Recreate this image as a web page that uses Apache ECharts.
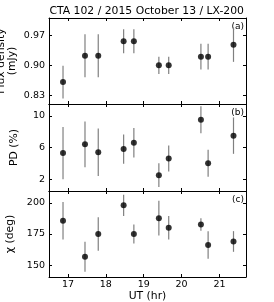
<!DOCTYPE html>
<html><head><meta charset="utf-8">
<script src="https://cdn.jsdelivr.net/npm/echarts@6/dist/echarts.min.js"></script>
<style>html,body{margin:0;padding:0;background:#fff}#c{width:274px;height:302px}</style>
</head><body><div id="c"></div>
<script>
const ut = [16.87, 17.45, 17.80, 18.47, 18.74, 19.40, 19.66, 20.51, 20.70, 21.37];
const flux = [0.861, 0.922, 0.922, 0.956, 0.956, 0.900, 0.900, 0.920, 0.920, 0.948];
const fluxErr = [0.038, 0.050, 0.050, 0.028, 0.028, 0.020, 0.020, 0.030, 0.030, 0.040];
const pd = [5.3, 6.4, 5.4, 5.8, 6.6, 2.5, 4.6, 9.5, 4.0, 7.5];
const pdErr = [3.3, 2.9, 3.0, 1.85, 1.85, 1.5, 1.65, 1.7, 1.7, 2.3];
const chi = [185.6, 156.7, 175.0, 198.0, 175.0, 187.7, 180.0, 182.7, 166.2, 169.0];
const chiErr = [15, 12, 13.5, 8.5, 7.7, 14, 9.4, 5, 11, 8.3];
const utTicks = [17, 18, 19, 20, 21];
const fluxTicks = [0.83, 0.90, 0.97];
const pdTicks = [2, 6, 10];
const chiTicks = [150, 175, 200];
const titleText = 'CTA 102 / 2015 October 13 / LX-200';
const panelLabels = ['(a)', '(b)', '(c)'];
const yNames = ['Flux density\n(mJy)', 'PD (%)', 'χ (deg)'];
const xName = 'UT (hr)';

const FONT = 'DejaVu Sans';
const grids = [
  {left: 49, width: 197, top: 18, height: 86, outerBoundsMode: 'none', containLabel: false},
  {left: 49, width: 197, top: 104, height: 87, outerBoundsMode: 'none', containLabel: false},
  {left: 49, width: 197, top: 191, height: 86, outerBoundsMode: 'none', containLabel: false}
];
const yRanges = [[0.81, 1.01], [0.5, 11.5], [140.5, 209.5]];
const yTicks = [fluxTicks, pdTicks, chiTicks];
const yFmt = [v => v.toFixed(2), v => String(v), v => String(v)];
const yGaps = [31, 29, 33];
const vals = [flux, pd, chi];
const errs = [fluxErr, pdErr, chiErr];

const line = {show: true, lineStyle: {color: '#000', width: 1}};
const xAxis = [], yAxis = [], series = [];
for (let i = 0; i < 3; i++) {
  xAxis.push({
    type: 'value', gridIndex: i, min: 16.5, max: 21.7, position: 'bottom',
    axisLine: line, splitLine: {show: false},
    axisTick: {show: true, inside: true, length: 3, customValues: utTicks, lineStyle: {color: '#000'}},
    axisLabel: {show: i === 2, customValues: utTicks, fontFamily: FONT, fontSize: 9.5, color: '#000', margin: 3},
    name: i === 2 ? xName : '', nameLocation: 'middle', nameGap: 14, nameMoveOverlap: false,
    nameTextStyle: {fontFamily: FONT, fontSize: 10.8, color: '#000'}
  });
}
for (let i = 0; i < 3; i++) {
  xAxis.push({
    type: 'value', gridIndex: i, min: 16.5, max: 21.7, position: 'top',
    axisLine: line, splitLine: {show: false},
    axisTick: {show: true, inside: true, length: 3, customValues: utTicks, lineStyle: {color: '#000'}},
    axisLabel: {show: false}
  });
}
for (let i = 0; i < 3; i++) {
  yAxis.push({
    type: 'value', gridIndex: i, min: yRanges[i][0], max: yRanges[i][1], position: 'left',
    axisLine: line, splitLine: {show: false},
    axisTick: {show: true, inside: true, length: 3, customValues: yTicks[i], lineStyle: {color: '#000'}},
    axisLabel: {customValues: yTicks[i], formatter: yFmt[i], fontFamily: FONT, fontSize: 9.5, color: '#000', margin: 4},
    name: yNames[i], nameLocation: 'middle', nameGap: yGaps[i], nameRotate: 90, nameMoveOverlap: false,
    nameTextStyle: {fontFamily: FONT, fontSize: 10.8, color: '#000', lineHeight: 11}
  });
}
for (let i = 0; i < 3; i++) {
  yAxis.push({
    type: 'value', gridIndex: i, min: yRanges[i][0], max: yRanges[i][1], position: 'right',
    axisLine: line, splitLine: {show: false},
    axisTick: {show: true, inside: true, length: 3, customValues: yTicks[i], lineStyle: {color: '#000'}},
    axisLabel: {show: false}
  });
}
for (let i = 0; i < 3; i++) {
  const data = ut.map((x, k) => [x, vals[i][k], errs[i][k]]);
  series.push({
    type: 'custom', xAxisIndex: i, yAxisIndex: i, data: data, clip: false, silent: true,
    renderItem: function (params, api) {
      const x = api.value(0), y = api.value(1), e = api.value(2);
      const a = api.coord([x, y - e]), b = api.coord([x, y + e]);
      return {type: 'line', shape: {x1: a[0], y1: a[1], x2: b[0], y2: b[1]},
        style: {stroke: '#808080', lineWidth: 1.2}};
    }
  });
  series.push({
    type: 'scatter', xAxisIndex: i, yAxisIndex: i, data: ut.map((x, k) => [x, vals[i][k]]),
    symbolSize: 6, itemStyle: {color: '#000'}, silent: true, z: 5
  });
}
const graphic = [{
  type: 'text', left: 147.5 - 98, top: 6,
  style: {text: titleText, fontFamily: FONT, fontSize: 10.8, fill: '#000'}
}];
const labelY = [22, 108, 195];
for (let i = 0; i < 3; i++) {
  graphic.push({type: 'text', x: 244, y: labelY[i],
    style: {text: panelLabels[i], fontFamily: FONT, fontSize: 9, fill: '#000', align: 'right', verticalAlign: 'top'}});
}
const chart = echarts.init(document.getElementById('c'), null, {renderer: 'canvas'});
chart.setOption({
  animation: false, backgroundColor: '#fff',
  grid: grids, xAxis: xAxis, yAxis: yAxis, series: series, graphic: graphic
});
</script></body></html>
